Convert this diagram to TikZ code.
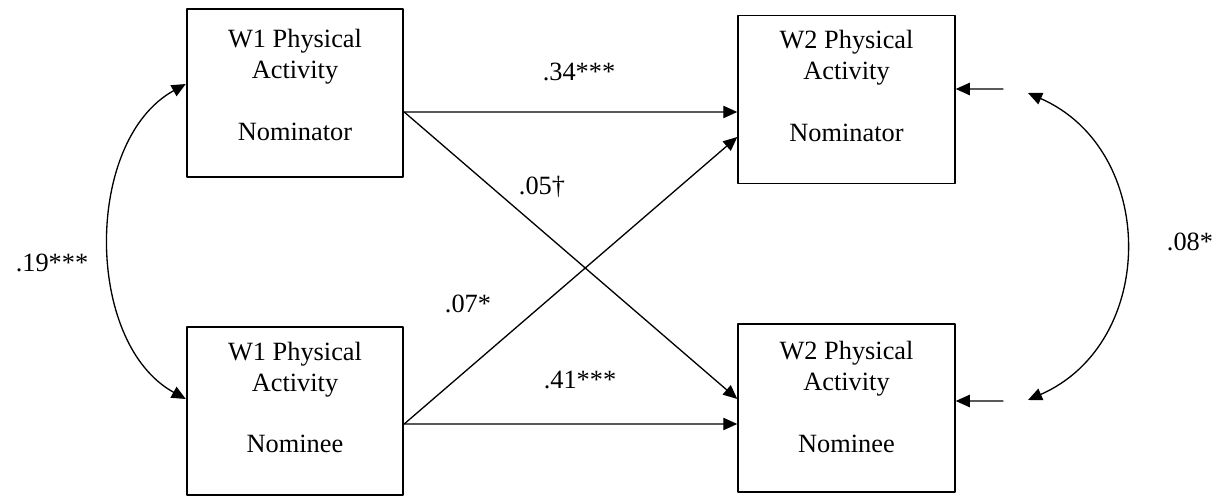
\documentclass[tikz,border=0pt]{standalone}
\usepackage{fontspec}
\setmainfont{Liberation Serif}
\usetikzlibrary{arrows.meta}

\begin{document}
\begin{tikzpicture}[x=0.02cm,y=-0.02cm,line cap=round,line join=round,>={Triangle[length=8pt,width=7pt]},
  every node/.style={inner sep=1pt,font=\fontsize{15pt}{17.6pt}\selectfont},
  varbox/.style={draw,line width=1.1pt,minimum width=4.33cm,minimum height=3.36cm,align=center,inner sep=0pt},
  path/.style={->,line width=0.75pt}]
  \def\gap{\\[17.6pt]}
  \def\lift#1{\rule[-#1pt]{0pt}{0pt}}
  \useasboundingbox (0,0) rectangle (1218,496);
  % boxes
  \node[varbox] (w1a) at (295,93) {W1 Physical\\Activity\gap Nominator\lift{9.5}};
  \node[varbox] (w2a) at (846.5,99.5) {W2 Physical\\Activity\gap Nominator\lift{15.5}};
  \node[varbox] (w1b) at (295,411) {W1 Physical\\Activity\gap Nominee\lift{15.5}};
  \node[varbox] (w2b) at (846.5,408) {W2 Physical\\Activity\gap Nominee\lift{13}};
  % residuals
  \coordinate (e1) at (1003,89);
  \coordinate (e2) at (1003,401);
  \coordinate (r1) at (1028,93);
  \coordinate (r2) at (1028,400);
  % paths
  \draw[path] ([yshift=-0.38cm]w1a.east) -- ([yshift=-0.25cm]w2a.west);
  \draw[path] ([yshift=-0.38cm]w1a.east) -- ([yshift=0.18cm]w2b.west);
  \draw[path] ([yshift=-0.26cm]w1b.east) -- ([yshift=-0.32cm]w2b.west);
  \draw[path] ([yshift=-0.26cm]w1b.east) -- ([yshift=-0.75cm]w2a.west);
  \draw[path] (e1) -- ([yshift=0.21cm]w2a.east);
  \draw[path] (e2) -- ([yshift=0.14cm]w2b.east);
  \draw[<->,line width=0.75pt] ([yshift=0.18cm]w1a.west) .. controls (84,140) and (84,343) .. ([yshift=0.24cm]w1b.west);
  \draw[<->,line width=0.75pt] (r1) .. controls (1158,150) and (1158,343) .. (r2);
  % estimates
  \node (b1) at (579,72) {.34***};
  \node (b2) at (542,187) {.05†};
  \node (b3) at (468,304) {.07*};
  \node (b4) at (580,380) {.41***};
  \node (c1) at (52,263) {.19***};
  \node (c2) at (1190,242) {.08*};
\end{tikzpicture}
\end{document}
